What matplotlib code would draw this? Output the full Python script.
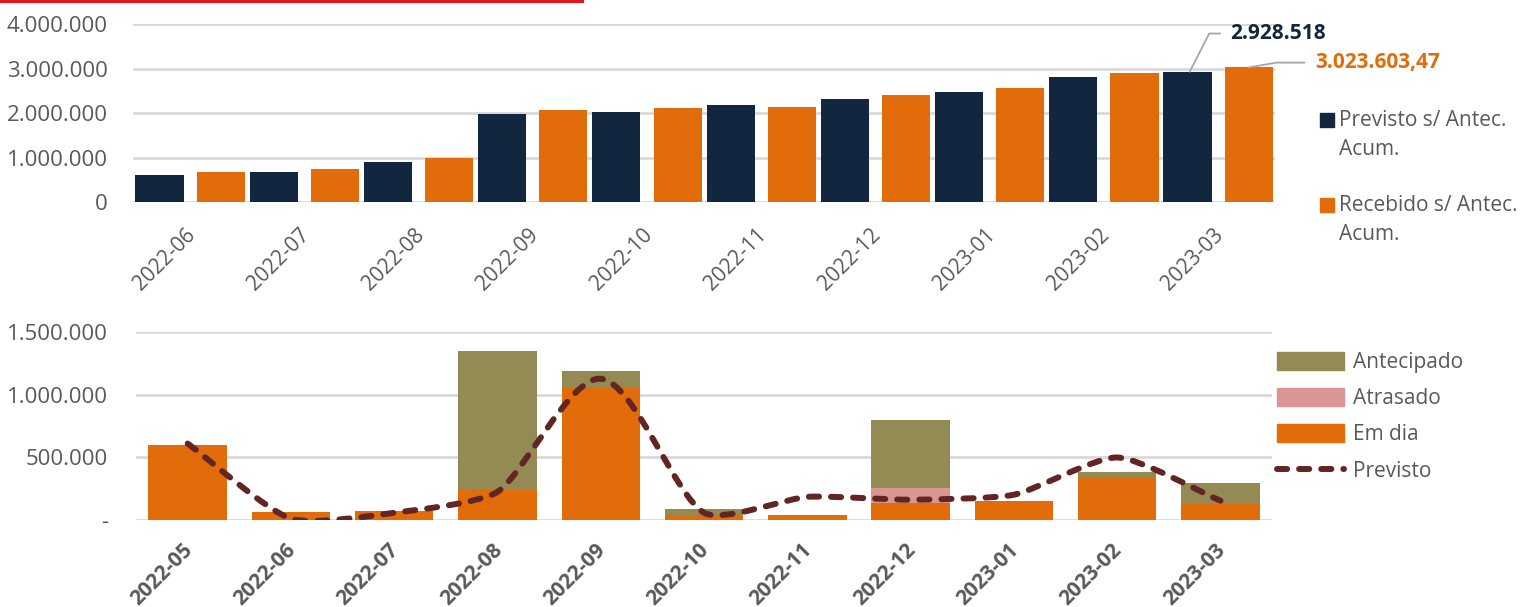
import numpy as np
import matplotlib.pyplot as plt
from matplotlib.lines import Line2D
from matplotlib.patches import Patch, PathPatch, Rectangle
from matplotlib.path import Path
from matplotlib.ticker import FuncFormatter
from matplotlib.transforms import ScaledTranslation

plt.rcParams['font.family'] = ['Open Sans', 'DejaVu Sans']

# ---- data: cumulative chart (top) ----
meses_acum = ['2022-06', '2022-07', '2022-08', '2022-09', '2022-10',
              '2022-11', '2022-12', '2023-01', '2023-02', '2023-03']
previsto_acum = [600000, 670000, 910000, 1980000, 2015000,
                 2170000, 2320000, 2470000, 2800000, 2928518]
recebido_acum = [670000, 740000, 1000000, 2060000, 2105000,
                 2140000, 2400000, 2560000, 2890000, 3023603.47]

# ---- data: monthly chart (bottom) ----
meses = ['2022-05', '2022-06', '2022-07', '2022-08', '2022-09', '2022-10',
         '2022-11', '2022-12', '2023-01', '2023-02', '2023-03']
em_dia = [602000, 66000, 69000, 241000, 1061000, 37000,
          37000, 133000, 154000, 334000, 127000]
atrasado = [0, 0, 0, 0, 0, 0, 0, 119000, 0, 0, 0]
antecipado = [0, 0, 0, 1109000, 130000, 48000, 6000, 549000, 0, 53000, 167000]
previsto = [610000, 10000, 58000, 225000, 1127000, 58000,
            185000, 162000, 202000, 499000, 154000]

NAVY = '#13263f'
ORANGE = '#e36c0a'
OLIVE = '#948a54'
PINK = '#da9694'
WINE = '#632523'
GRID = '#d9d9d9'
TXT = '#595959'
LW = 4.3
DASH = (0, (1.7, 2.0))


def fmt_pt(v, pos=None):
    return f'{int(round(v)):,}'.replace(',', '.')


def fmt_dash(v, pos=None):
    if v == 0:
        return '-'
    return f'{int(round(v)):,}'.replace(',', '.')


def smooth_path(ax, xs, ys, t=0.2):
    # bezier through every point, worked out in pixel space
    pts = ax.transData.transform(np.column_stack([xs, ys]).astype(float))
    n = len(pts)
    tang = []
    for i in range(n):
        d = pts[min(i + 1, n - 1)] - pts[max(i - 1, 0)]
        tang.append(d / np.hypot(*d))
    verts = [pts[0]]
    codes = [Path.MOVETO]
    for i in range(n - 1):
        seg = np.hypot(*(pts[i + 1] - pts[i]))
        verts += [pts[i] + tang[i] * seg * t, pts[i + 1] - tang[i + 1] * seg * t, pts[i + 1]]
        codes += [Path.CURVE4] * 3
    verts = ax.transData.inverted().transform(np.array(verts))
    return Path(verts, codes)


def shift_labels(ax, dx_px):
    for lab in ax.get_xticklabels():
        lab.set_transform(lab.get_transform() + ScaledTranslation(dx_px / 100, 0, fig.dpi_scale_trans))


def px(x, y):
    # figure fraction from pixel position (top-left origin)
    return x / 1525, 1 - y / 607


fig = plt.figure(figsize=(15.25, 6.07), dpi=100)

# ----------------- TOP CHART -----------------
ax1 = fig.add_axes([0.0872, 0.6672, 0.749, 0.2932])
x1 = np.arange(len(meses_acum))
w = 0.421
off = 0.268
ax1.bar(x1 - off, previsto_acum, w, color=NAVY)
ax1.bar(x1 + off, recebido_acum, w, color=ORANGE)
ax1.set_xlim(-0.5, len(meses_acum) - 0.5)
ax1.set_ylim(0, 4000000)
ax1.set_yticks([0, 1000000, 2000000, 3000000, 4000000])
ax1.yaxis.set_major_formatter(FuncFormatter(fmt_pt))
ax1.set_xticks(x1)
ax1.set_xticklabels(meses_acum, rotation=45, ha='right', va='top',
                    rotation_mode='anchor')
ax1.tick_params(axis='x', length=0, pad=16, labelsize=15, colors=TXT)
ax1.tick_params(axis='y', length=0, pad=18, labelsize=16, colors=TXT)
ax1.grid(axis='y', color=GRID, linewidth=2)
ax1.set_axisbelow(True)
for s in ax1.spines.values():
    s.set_visible(False)
shift_labels(ax1, -5)

ax1.annotate(fmt_pt(previsto_acum[-1]), xy=(x1[-1] - off + 0.02, previsto_acum[-1]),
             xytext=(29, 27.5), textcoords='offset points', ha='left', va='center',
             fontsize=15, fontweight='bold', color=NAVY,
             arrowprops=dict(arrowstyle='-', color='#a6a6a6', lw=1.3,
                             connectionstyle='angle,angleA=0,angleB=63,rad=0',
                             shrinkA=5, shrinkB=0, relpos=(0, 0.5)))
ax1.annotate('3.023.603,47', xy=(x1[-1] + off, recebido_acum[-1]),
             xytext=(48, 3.5), textcoords='offset points', ha='left', va='center',
             fontsize=15, fontweight='bold', color=ORANGE,
             arrowprops=dict(arrowstyle='-', color='#a6a6a6', lw=1.3,
                             connectionstyle='angle,angleA=0,angleB=10,rad=0',
                             shrinkA=6, shrinkB=0, relpos=(0, 0.5)))

# legend of the top chart (square sits on the first line of a two-line label)
top_labels = ['Previsto s/ Antec.\nAcum.', 'Recebido s/ Antec.\nAcum.']
for lab, col, yc in zip(top_labels, [NAVY, ORANGE], [120, 205]):
    x0, y0 = px(1320, yc + 7)
    fig.add_artist(Rectangle((x0, y0), 14 / 1525, 14 / 607, transform=fig.transFigure,
                             color=col))
    tx, ty = px(1339, yc - 10)
    fig.text(tx, ty, lab, ha='left', va='top', fontsize=15, color=TXT, linespacing=1.5)

# ----------------- BOTTOM CHART -----------------
ax2 = fig.add_axes([0.0892, 0.1433, 0.745, 0.3097])
x2 = np.arange(len(meses))
bw = 0.76
em = np.array(em_dia)
at = np.array(atrasado)
an = np.array(antecipado)
ax2.bar(x2, em, bw, color=ORANGE)
ax2.bar(x2, at, bw, bottom=em, color=PINK)
ax2.bar(x2, an, bw, bottom=em + at, color=OLIVE)

ax2.set_xlim(-0.5, len(meses) - 0.5)
ax2.set_ylim(0, 1500000)

line = PathPatch(smooth_path(ax2, x2, previsto), fill=False, edgecolor=WINE,
                 linewidth=LW, linestyle=DASH, capstyle='round',
                 joinstyle='round', zorder=3)
ax2.add_patch(line)

ax2.set_yticks([0, 500000, 1000000, 1500000])
ax2.yaxis.set_major_formatter(FuncFormatter(fmt_dash))
ax2.set_xticks(x2)
ax2.set_xticklabels(meses, rotation=45, ha='right', va='top',
                    rotation_mode='anchor', fontweight='bold')
ax2.tick_params(axis='x', length=0, pad=14, labelsize=15, colors=TXT)
ax2.tick_params(axis='y', length=0, pad=20, labelsize=16, colors=TXT)
ax2.grid(axis='y', color=GRID, linewidth=2)
ax2.set_axisbelow(True)
for s in ax2.spines.values():
    s.set_visible(False)
shift_labels(ax2, -6)

leg2 = fig.legend(handles=[Patch(color=OLIVE), Patch(color=PINK), Patch(color=ORANGE),
                           Line2D([], [], color=WINE, lw=LW, ls=DASH,
                                  dash_capstyle='round')],
                  labels=['Antecipado', 'Atrasado', 'Em dia', 'Previsto'],
                  loc='upper left', bbox_to_anchor=px(1277, 352),
                  frameon=False, fontsize=15, handlelength=3.2, handleheight=0.95,
                  handletextpad=0.45, labelspacing=0.72, borderpad=0, borderaxespad=0)
for t in leg2.get_texts():
    t.set_color(TXT)

# red rule at the top edge
fig.add_artist(Line2D([0, 582 / 1525], [1 - 1 / 607, 1 - 1 / 607],
                      transform=fig.transFigure, color='#e2161c', lw=2.2))

fig.savefig('out.png', dpi=100)
